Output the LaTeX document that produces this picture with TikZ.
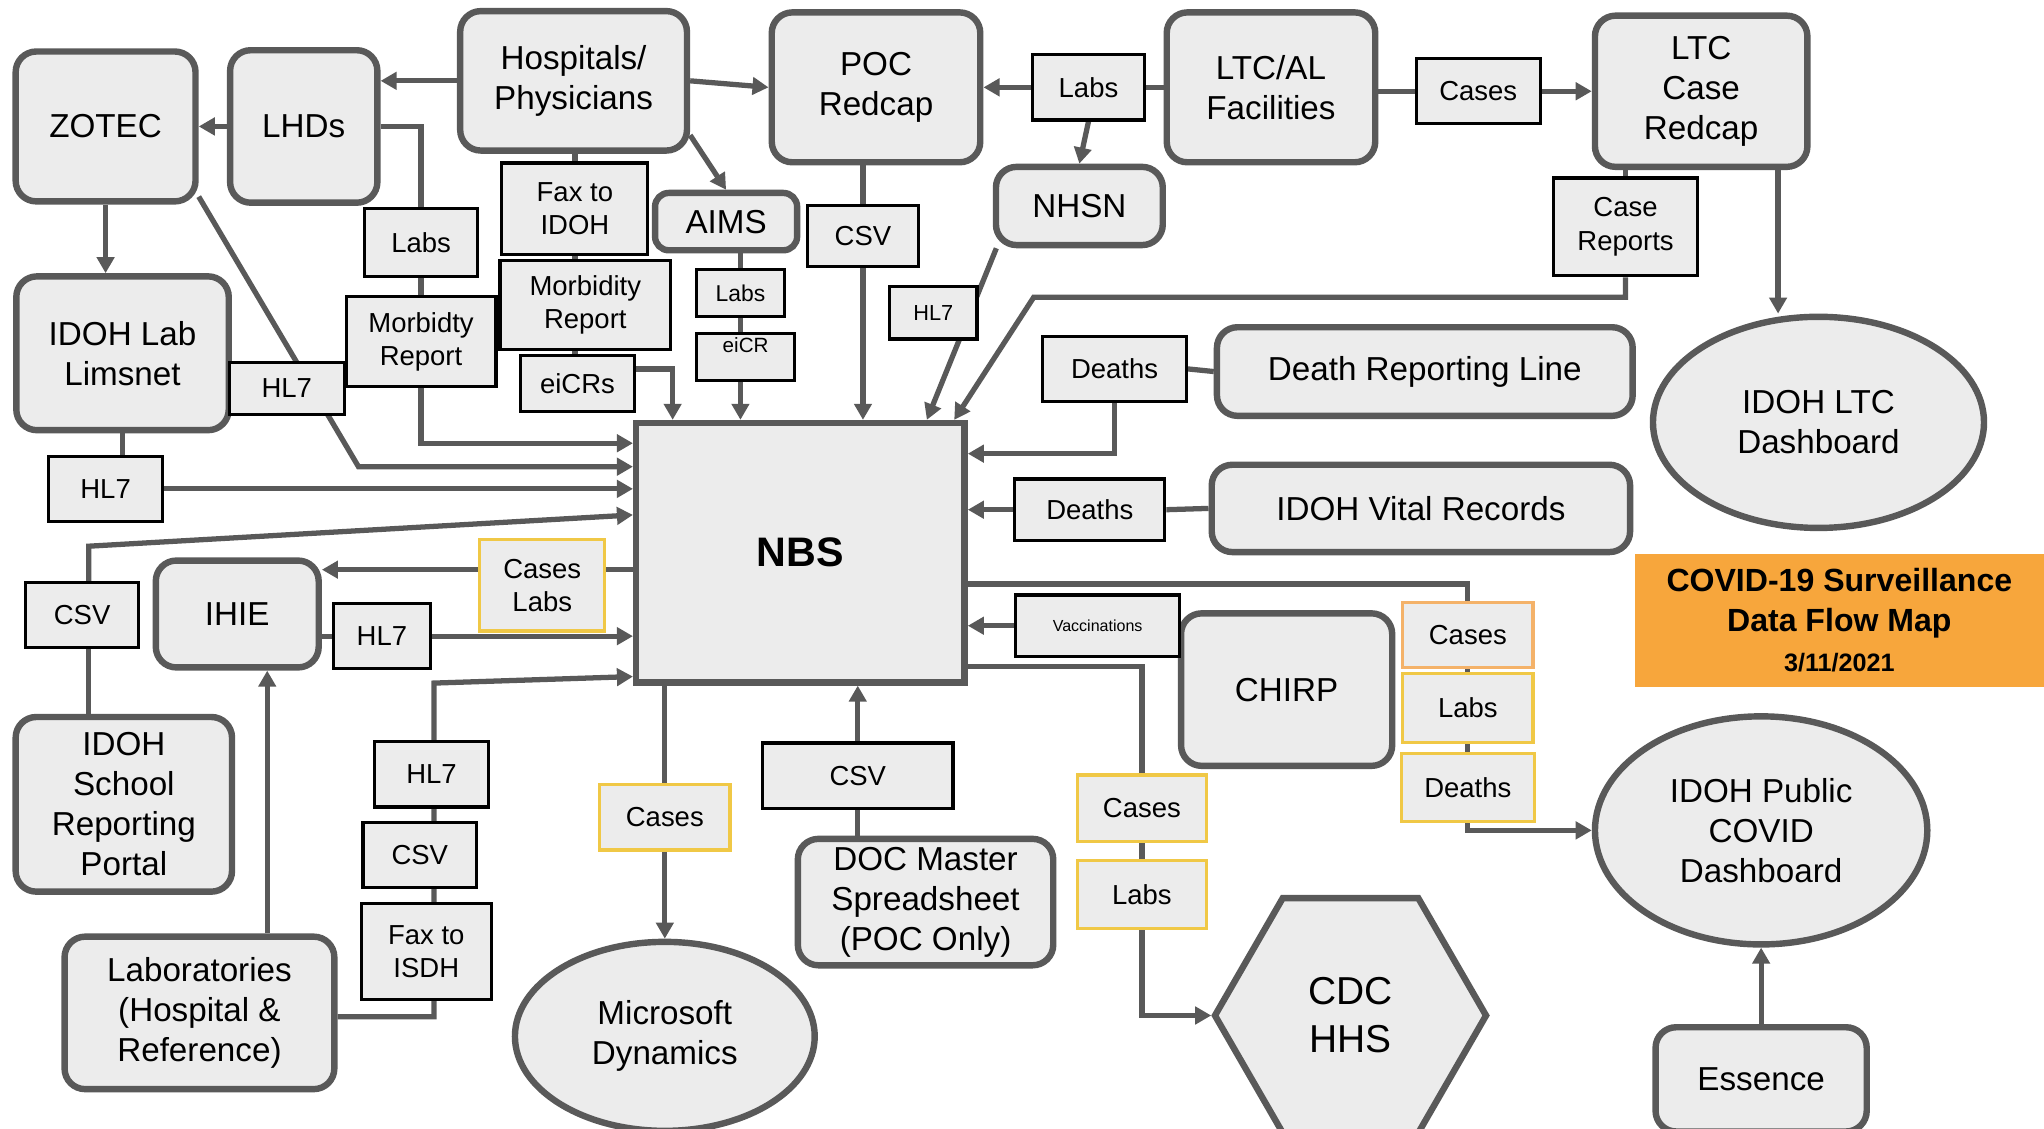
\documentclass[tikz,border=0pt]{standalone}
\usepackage{fontspec}
\setmainfont{Liberation Sans}
\usetikzlibrary{arrows.meta,shapes.geometric,backgrounds}

\definecolor{boxgray}{RGB}{236,236,236}
\definecolor{linegray}{RGB}{89,89,89}
\definecolor{goldline}{RGB}{240,200,70}
\definecolor{peachline}{RGB}{244,178,105}
\definecolor{titleorange}{RGB}{247,166,60}

\begin{document}
\begin{tikzpicture}[x=0.02cm, y=-0.02cm,
        sys/.style={draw=linegray, line width=2.8pt, fill=boxgray, rounded corners=9pt, align=center, inner sep=0pt, font=\fontsize{14.5}{17.5}\selectfont},
        sysoval/.style={sys, ellipse},
        tag/.style={draw=black, line width=1.4pt, fill=boxgray, align=center, inner sep=0pt, font=\fontsize{12}{14.5}\selectfont},
        ytag/.style={tag, draw=goldline},
        flow/.style={draw=linegray, line width=2.3pt, -{Triangle[length=7pt, width=7.5pt]}},
        link/.style={draw=linegray, line width=2.3pt}]
        \useasboundingbox ( 0, 0 ) rectangle ( 1568, 866 );

        % системы
        \node[sys, minimum width=2.76cm, minimum height=2.3cm] (zotec) at ( 81, 97 ) {ZOTEC};
        \node[sys, minimum width=2.26cm, minimum height=2.34cm] (lhds) at ( 233, 97 ) {LHDs};
        \node[sys, minimum width=3.48cm, minimum height=2.14cm] (hosp) at ( 440, 62 ) {Hospitals/\\Physicians};
        \node[sys, minimum width=3.2cm, minimum height=2.3cm] (poc) at ( 672, 67 ) {POC\\Redcap};
        \node[sys, minimum width=3.2cm, minimum height=2.3cm] (ltcal) at ( 975, 67 ) {LTC/AL\\Facilities};
        \node[sys, minimum width=3.26cm, minimum height=2.32cm] (ltccase) at ( 1305, 70 ) {LTC\\Case\\Redcap};
        \node[sys, minimum width=2.56cm, minimum height=1.2cm] (nhsn) at ( 828, 158 ) {NHSN};
        \node[sys, rounded corners=6pt, minimum width=2.18cm, minimum height=0.88cm] (aims) at ( 557, 170 ) {AIMS};
        \node[sys, minimum width=3.26cm, minimum height=2.36cm] (lims) at ( 94, 271 ) {IDOH Lab\\Limsnet};
        \node[sys, minimum width=6.38cm, minimum height=1.36cm] (drl) at ( 1093, 285 ) {Death Reporting Line};
        \node[sys, minimum width=6.42cm, minimum height=1.34cm] (vr) at ( 1090, 390 ) {IDOH Vital Records};
        \node[sys, minimum width=2.5cm, minimum height=1.64cm] (ihie) at ( 182, 471 ) {IHIE};
        \node[sys, minimum width=3.24cm, minimum height=2.34cm] (chirp) at ( 987, 529 ) {CHIRP};
        \node[sys, minimum width=3.32cm, minimum height=2.68cm] (school) at ( 95, 617 ) {IDOH\\School\\Reporting\\Portal};
        \node[sys, minimum width=4.14cm, minimum height=2.34cm] (labr) at ( 153, 777 ) {Laboratories\\(Hospital \&\\Reference)};
        \node[sys, minimum width=3.92cm, minimum height=1.94cm] (doc) at ( 710, 692 ) {DOC Master\\Spreadsheet\\(POC Only)};
        \node[sys, minimum width=3.24cm, minimum height=1.6cm] (essence) at ( 1351, 828 ) {Essence};
        \node[sysoval, minimum width=5.08cm, minimum height=3.24cm] (ltcdash) at ( 1395, 324 ) {IDOH LTC\\Dashboard};
        \node[sysoval, minimum width=5.1cm, minimum height=3.5cm] (pubdash) at ( 1351, 637 ) {IDOH Public\\COVID\\Dashboard};
        \node[sysoval, minimum width=4.6cm, minimum height=2.9cm] (msd) at ( 510, 795 ) {Microsoft\\Dynamics};
        \node[draw=linegray, line width=2.8pt, fill=boxgray, regular polygon, regular polygon sides=6, minimum size=4.16cm, align=center, inner sep=0pt, font=\fontsize{17}{21}\selectfont] (cdc) at ( 1036, 779 ) {CDC\\HHS};
        \node[draw=linegray, line width=2.8pt, fill=boxgray, minimum width=5.04cm, minimum height=3.98cm, font=\fontsize{18}{20}\selectfont\bfseries] (nbs) at ( 614, 424 ) {NBS};

        % заголовок
        \node[fill=titleorange, minimum width=6.28cm, minimum height=2.04cm, align=center, inner sep=0pt, font=\fontsize{14}{17.5}\selectfont\bfseries] (title) at ( 1411, 476 ) {COVID-19 Surveillance\\Data Flow Map\\{\fontsize{11}{13}\selectfont 3/11/2021}};

        % подписи
        \node[tag, minimum width=1.72cm, minimum height=1cm] (labsPoc) at ( 835, 67 ) {Labs};
        \node[tag, minimum width=1.9cm, minimum height=1cm] (casesLtc) at ( 1134, 70 ) {Cases};
        \node[tag, minimum width=2.24cm, minimum height=1.4cm] (faxIdoh) at ( 441, 160 ) {Fax to\\IDOH};
        \node[tag, minimum width=1.74cm, minimum height=1.04cm] (labsLhd) at ( 323, 186 ) {Labs};
        \node[tag, minimum width=2.62cm, minimum height=1.36cm] (morbHosp) at ( 449, 234 ) {Morbidity\\Report};
        \node[tag, minimum width=2.3cm, minimum height=1.38cm] (morbLhd) at ( 323, 262 ) {Morbidty\\Report};
        \node[tag, minimum width=1.76cm, minimum height=0.8cm] (hlZotec) at ( 220, 298 ) {HL7};
        \node[tag, minimum width=1.74cm, minimum height=0.86cm] (eicrsHosp) at ( 443, 294 ) {eiCRs};
        \node[tag, minimum width=1.36cm, minimum height=0.72cm, font=\fontsize{10}{12}\selectfont] (labsAims) at ( 568, 225 ) {Labs};
        \node[tag, minimum width=1.5cm, minimum height=0.72cm, font=\fontsize{9}{11}\selectfont, text height=6.5pt, text depth=11pt] (eicrAims) at ( 572, 274 ) {eiCR};
        \node[tag, minimum width=1.7cm, minimum height=0.94cm] (csvPoc) at ( 662, 181 ) {CSV};
        \node[tag, minimum width=1.34cm, minimum height=0.8cm, font=\fontsize{9.5}{11}\selectfont] (hlNhsn) at ( 716, 240 ) {HL7};
        \node[tag, minimum width=2.2cm, minimum height=1.5cm] (caseRep) at ( 1247, 174 ) {Case\\Reports};
        \node[tag, minimum width=2.2cm, minimum height=1cm] (deathsDrl) at ( 855, 283 ) {Deaths};
        \node[tag, minimum width=1.74cm, minimum height=1cm] (hlLims) at ( 81, 375 ) {HL7};
        \node[tag, minimum width=2.3cm, minimum height=0.94cm] (deathsVr) at ( 836, 391 ) {Deaths};
        \node[tag, minimum width=1.74cm, minimum height=1cm] (csvSchool) at ( 63, 472 ) {CSV};
        \node[tag, minimum width=1.48cm, minimum height=1cm] (hlIhie) at ( 293, 488 ) {HL7};
        \node[tag, minimum width=2.52cm, minimum height=0.94cm, font=\fontsize{7}{8}\selectfont] (vacc) at ( 842, 480 ) {Vaccinations};
        \node[tag, minimum width=2.92cm, minimum height=1cm] (csvDoc) at ( 658, 595 ) {CSV};
        \node[tag, minimum width=1.76cm, minimum height=1cm] (hlLab) at ( 331, 594 ) {HL7};
        \node[tag, minimum width=1.74cm, minimum height=1cm] (csvLab) at ( 322, 656 ) {CSV};
        \node[tag, minimum width=2cm, minimum height=1.48cm] (faxIsdh) at ( 327, 730 ) {Fax to\\ISDH};

        % выгрузки из NBS
        \node[ytag, minimum width=1.92cm, minimum height=1.4cm] (outIhie) at ( 416, 449 ) {Cases\\Labs};
        \node[ytag, minimum width=2cm, minimum height=1cm] (outMsd) at ( 510, 627 ) {Cases};
        \node[ytag, draw=peachline, minimum width=2cm, minimum height=1cm] (outPubC) at ( 1126, 487 ) {Cases};
        \node[ytag, minimum width=2cm, minimum height=1.06cm] (outPubL) at ( 1126, 543 ) {Labs};
        \node[ytag, minimum width=2.04cm, minimum height=1.04cm] (outPubD) at ( 1126, 604 ) {Deaths};
        \node[ytag, minimum width=1.98cm, minimum height=1.02cm] (outCdcC) at ( 876, 620 ) {Cases};
        \node[ytag, minimum width=1.98cm, minimum height=1.04cm] (outCdcL) at ( 876, 686 ) {Labs};

        % изломы
        \coordinate (zbend) at ( 275, 358 );
        \coordinate (sbend) at ( 68, 419 );
        \coordinate (lbendA) at ( 333, 780 );
        \coordinate (lbendB) at ( 333, 524 );
        \coordinate (crbend) at ( 793, 228 );

        \begin{scope}[on background layer]
            % верхний ряд
            \draw[flow] (hosp.west) -- (lhds.east |- hosp.west);
            \draw[flow] (hosp.east) -- (poc.west);
            \draw[flow] (hosp.-25) -- (aims.north);
            \draw[flow] (lhds.west) -- (zotec.east);
            \draw[flow] (zotec.south) -- (zotec.south |- lims.north);
            \draw[link] (ltcal.west) -- (labsPoc.east);
            \draw[flow] (labsPoc.west) -- (poc.east |- labsPoc.west);
            \draw[flow] (labsPoc.south) -- (nhsn.north);
            \draw[link] (ltcal.east |- casesLtc.west) -- (casesLtc.west);
            \draw[flow] (casesLtc.east) -- (ltccase.west |- casesLtc.east);
            \draw[flow] (ltccase.south -| 1364,0) -- (ltcdash.north -| 1364,0);

            % входы в NBS сверху
            \draw[link] (lhds.east) -| (labsLhd.north);
            \draw[link] (labsLhd.south) -- (morbLhd.north);
            \draw[flow] (morbLhd.south) |- (nbs.west |- 0,340);
            \draw[flow] (zotec.-37) -- (zbend) -- (nbs.west |- zbend);
            \draw[link] (hosp.south -| faxIdoh.north) -- (faxIdoh.north);
            \draw[link] (faxIdoh.south) -- (faxIdoh.south |- morbHosp.north);
            \draw[link] (faxIdoh.south |- morbHosp.south) -- (faxIdoh.south |- eicrsHosp.north);
            \draw[flow] (eicrsHosp.east |- 0,283) -| (nbs.north -| 516,0);
            \draw[link] (aims.south -| labsAims.north) -- (labsAims.north);
            \draw[link] (labsAims.south) -- (labsAims.south |- eicrAims.north);
            \draw[flow] (labsAims.south |- eicrAims.south) -- (nbs.north -| labsAims.south);
            \draw[link] (poc.south -| csvPoc.north) -- (csvPoc.north);
            \draw[flow] (csvPoc.south) -- (nbs.north -| csvPoc.south);
            \draw[flow] (nhsn.207) -- (nbs.north -| 711,0);
            \draw[link] (ltccase.south -| caseRep.north) -- (caseRep.north);
            \draw[flow] (caseRep.south) -- (caseRep.south |- crbend) -- (crbend) -- (nbs.north -| 732,0);

            % входы в NBS слева
            \draw[link] (lims.south) -- (lims.south |- hlLims.north);
            \draw[flow] (hlLims.east) -- (nbs.west |- hlLims.east);
            \draw[link] (school.north -| sbend) -- (csvSchool.south -| sbend);
            \draw[flow] (csvSchool.north -| sbend) -- (sbend) -- (nbs.west |- 0,395);
            \draw[link] (nbs.west |- 0,437) -- (outIhie.east |- 0,437);
            \draw[flow] (outIhie.west |- 0,437) -- (ihie.east |- 0,437);
            \draw[link] (ihie.east |- hlIhie.west) -- (hlIhie.west);
            \draw[flow] (hlIhie.east) -- (nbs.west |- hlIhie.east);
            \draw[flow] (labr.north -| 205,0) -- (ihie.south -| 205,0);
            \draw[flow] (labr.east |- lbendA) -- (lbendA) -- (lbendB) -- (nbs.west |- 0,519);

            % входы и выходы снизу
            \draw[link] (nbs.south -| outMsd.north) -- (outMsd.north);
            \draw[flow] (outMsd.south) -- (msd.north);
            \draw[link] (doc.north -| csvDoc.south) -- (csvDoc.south);
            \draw[flow] (csvDoc.north) -- (nbs.south -| csvDoc.north);

            % справа
            \draw[link] (drl.west) -- (deathsDrl.east);
            \draw[flow] (deathsDrl.south) |- (nbs.east |- 0,348);
            \draw[link] (vr.west) -- (deathsVr.east);
            \draw[flow] (deathsVr.west) -- (nbs.east |- deathsVr.west);
            \draw[link] (chirp.west |- vacc.east) -- (vacc.east);
            \draw[flow] (vacc.west) -- (nbs.east |- vacc.west);
            \draw[link] (nbs.east |- 0,448) -| (outPubC.north);
            \draw[link] (outPubC.south) -- (outPubL.north);
            \draw[link] (outPubL.south) -- (outPubD.north);
            \draw[flow] (outPubD.south) |- (pubdash.west);
            \draw[link] (nbs.east |- 0,511) -| (outCdcC.north);
            \draw[link] (outCdcC.south) -- (outCdcL.north);
            \draw[flow] (outCdcL.south) |- (cdc.west);
            \draw[flow] (essence.north) -- (pubdash.south);
        \end{scope}
    \end{tikzpicture}
\end{document}
